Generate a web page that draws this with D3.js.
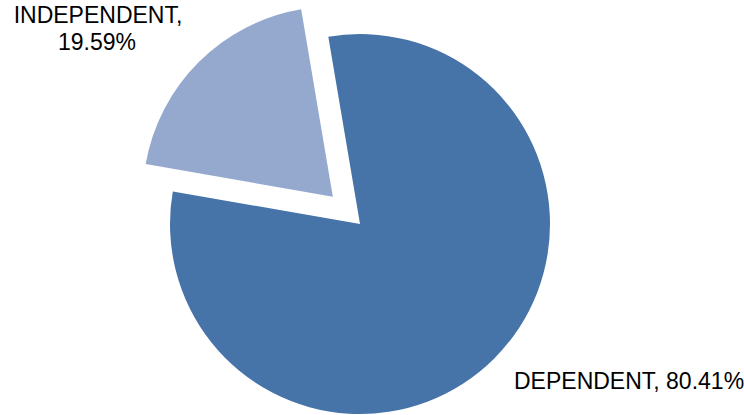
<!DOCTYPE html>
<html>
<head>
<meta charset="utf-8">
<script src="https://cdn.jsdelivr.net/npm/d3@7"></script>
<style>
  body { margin: 0; background: #fff; }
  svg text { font-family: "Liberation Sans", Arial, sans-serif; font-size: 23px; fill: #000; }
</style>
</head>
<body>
<div id="chart"></div>
<script>
var categories = ["DEPENDENT", "INDEPENDENT"];
var values = [80.41, 19.59];
var colors = ["#4673a8", "#95a9cf"];
var exploded = [0, 38.5];

var width = 744, height = 415,
    cx = 360, cy = 224,
    radius = 190,
    startRot = -9.6 * Math.PI / 180;

var svg = d3.select("#chart").append("svg")
    .attr("width", width)
    .attr("height", height);

var pie = d3.pie()
    .sort(null)
    .startAngle(startRot)
    .endAngle(startRot + 2 * Math.PI)
    .value(function(d) { return d; });

var arc = d3.arc()
    .innerRadius(0)
    .outerRadius(radius);

var arcs = pie(values);

var g = svg.append("g")
    .attr("transform", "translate(" + cx + "," + cy + ")");

g.selectAll("path")
    .data(arcs)
  .enter().append("path")
    .attr("d", arc)
    .attr("fill", function(d, i) { return colors[i]; })
    .attr("transform", function(d, i) {
      var mid = (d.startAngle + d.endAngle) / 2;
      return "translate(" + (Math.sin(mid) * exploded[i]) + "," + (-Math.cos(mid) * exploded[i]) + ")";
    });

// labels
svg.append("text")
    .attr("x", 514)
    .attr("y", 389)
    .text(categories[0] + ", " + values[0].toFixed(2) + "%");

var indep = svg.append("text")
    .attr("text-anchor", "middle");
indep.append("tspan")
    .attr("x", 98)
    .attr("y", 23)
    .text(categories[1] + ",");
indep.append("tspan")
    .attr("x", 97)
    .attr("y", 50)
    .text(values[1].toFixed(2) + "%");
</script>
</body>
</html>
